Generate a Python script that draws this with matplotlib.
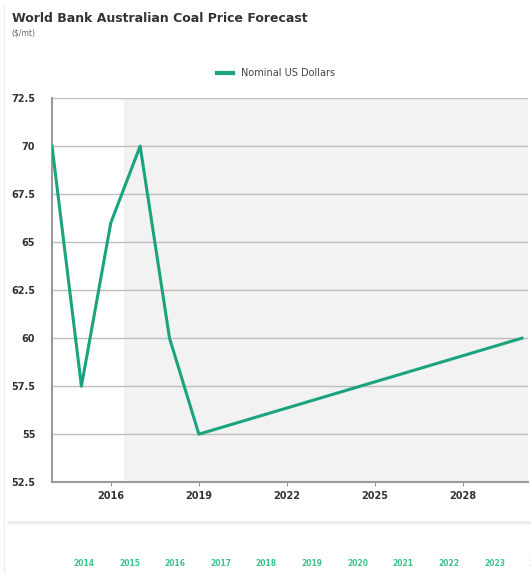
import matplotlib.pyplot as plt
from matplotlib.lines import Line2D

# data
years = [2014, 2015, 2016, 2017, 2018, 2019, 2030]
prices = [70, 57.5, 66, 70, 60, 55, 60]
yticks = [52.5, 55, 57.5, 60, 62.5, 65, 67.5, 70, 72.5]
xticks = [2016, 2019, 2022, 2025, 2028]
nav_years = [2014, 2015, 2016, 2017, 2018, 2019, 2020, 2021, 2022, 2023, 2024]

green = '#1ba37f'

fig = plt.figure(figsize=(5.31, 5.74), dpi=100)
ax = fig.add_axes([0.098, 0.160, 0.896, 0.669])

# forecast shading
ax.axvspan(2016.45, 2030.2, color='#f2f2f2', zorder=0)
ax.plot(years, prices, color=green, lw=2.2, zorder=3)

ax.set_xlim(2014, 2030.2)
ax.set_ylim(52.5, 72.5)
ax.set_yticks(yticks)
ax.set_yticklabels([f"{v:g}" for v in yticks])
ax.set_xticks(xticks)
ax.grid(axis='y', color='#bdbdbd', lw=1.0)
ax.set_axisbelow(True)
for s in ['top', 'right']:
    ax.spines[s].set_visible(False)
for s in ['left', 'bottom']:
    ax.spines[s].set_color('#9a9a9a')
    ax.spines[s].set_linewidth(1.5)
ax.tick_params(axis='y', length=0, labelsize=7, labelcolor='#333333', pad=12)
ax.tick_params(axis='x', length=3, color='#9a9a9a', labelsize=7,
               labelcolor='#333333')
for lbl in ax.get_xticklabels() + ax.get_yticklabels():
    lbl.set_fontweight('bold')

# title and subtitle
fig.text(0.022, 0.962, "World Bank Australian Coal Price Forecast",
         fontsize=9, fontweight='bold', color='#333333')
fig.text(0.022, 0.938, "($/mt)", fontsize=5.5, color='#666666')

# legend
leg = fig.legend([Line2D([0], [0], color=green, lw=3)], ["Nominal US Dollars"],
                 loc='center', bbox_to_anchor=(0.52, 0.872), frameon=False,
                 fontsize=7, handlelength=1.6)
for t in leg.get_texts():
    t.set_color('#444444')

# left border and navigator separator
fig.add_artist(Line2D([0.008, 0.008], [0.0, 0.99], color='#eeeeee', lw=1))
fig.add_artist(Line2D([0.015, 1.0], [0.091, 0.091], color='#ececec', lw=2))

# navigator year labels
for i, y in enumerate(nav_years):
    fig.text((84 + i * 45.6) / 531, 1 - 563 / 574, str(y), fontsize=5.5,
             fontweight='bold', color='#3cc48a', ha='center', va='center')

fig.savefig('out.png', dpi=100)
